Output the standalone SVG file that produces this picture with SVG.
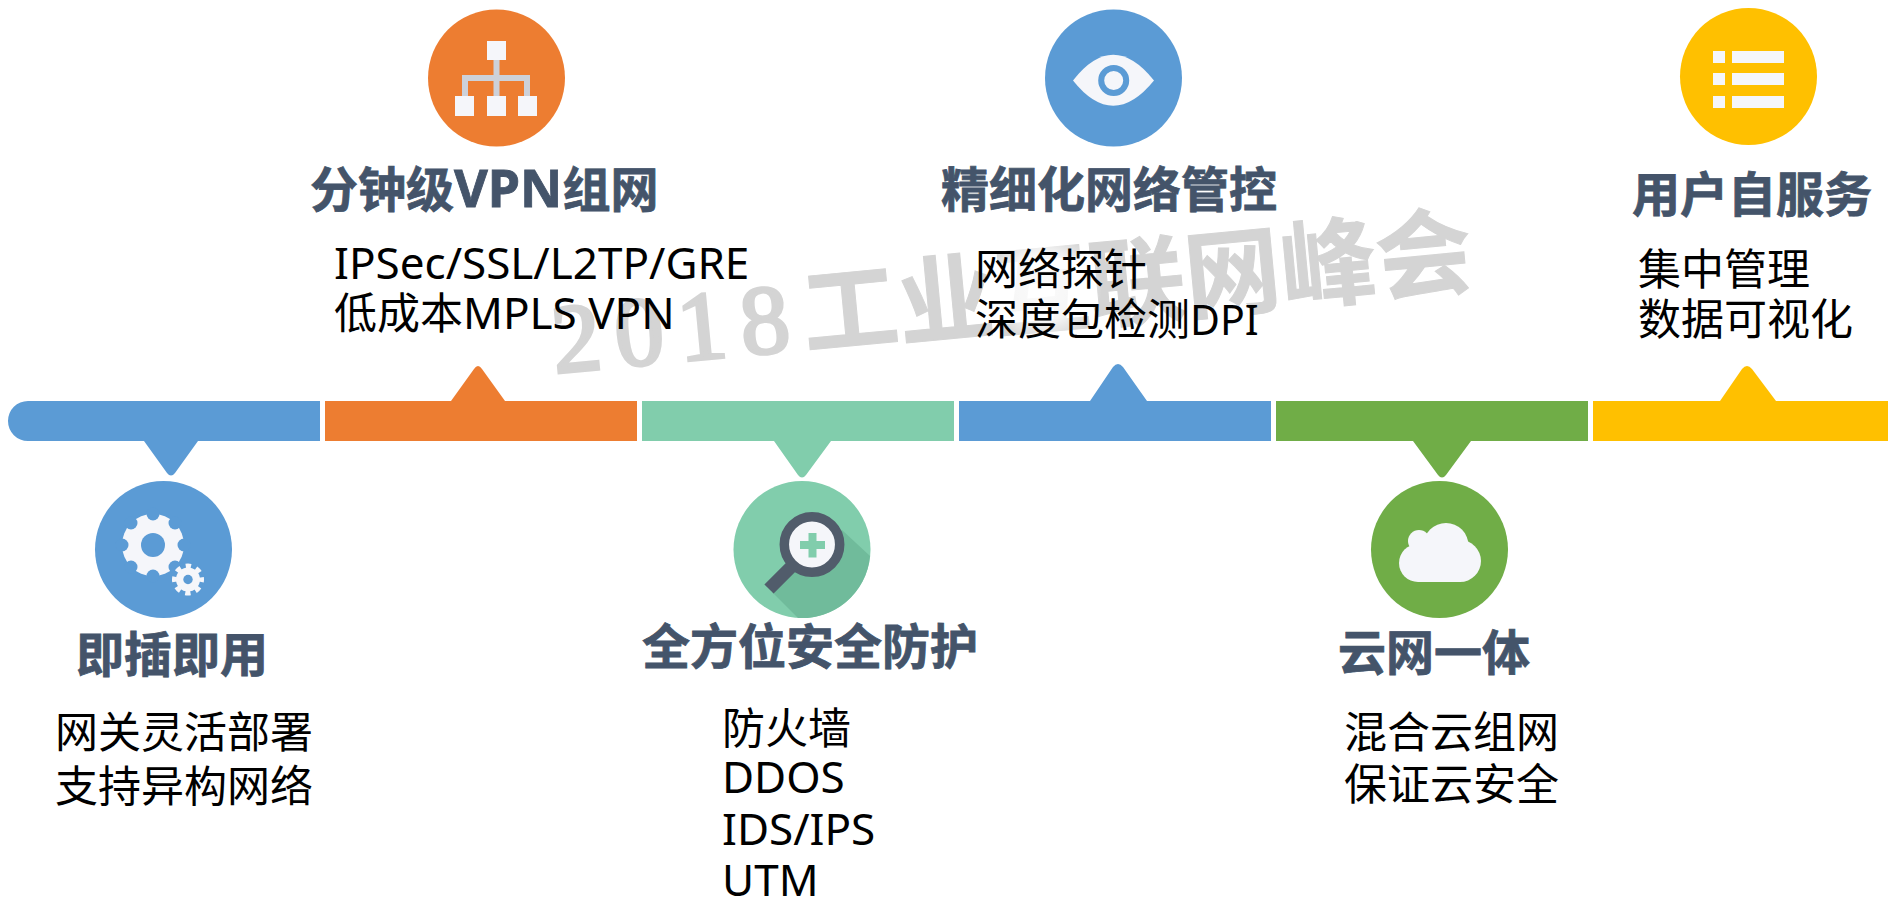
<svg xmlns="http://www.w3.org/2000/svg" width="1888" height="898" viewBox="0 0 1888 898">
<style>
text{font-family:"Noto Sans","Noto Sans CJK SC",sans-serif}
.h{font-weight:700;font-size:48px;fill:#44546a;stroke:#44546a;stroke-width:.8}
.b{font-size:43px;fill:#000}
.l{font-size:44px}
.w{fill:#f5f6fa}
.blue{fill:#5b9bd5}.orange{fill:#ed7d31}.mint{fill:#81cdac}.green{fill:#70ad47}.yellow{fill:#ffc000}
.wm{fill:#d4d4d4;stroke:#d4d4d4}
</style>
<defs>
<radialGradient id="fade"><stop offset="0" stop-color="#fff" stop-opacity=".9"/><stop offset=".6" stop-color="#fff" stop-opacity=".8"/><stop offset="1" stop-color="#fff" stop-opacity="0"/></radialGradient>
</defs>
<rect width="1888" height="898" fill="#fff"/>
<g id="watermark" transform="translate(555,373) rotate(-5.400)">
<text class="wm" x="0 63 126 189" y="0" font-size="98" stroke-width="3.500" style="font-family:'Liberation Serif',serif">2018</text>
<text class="wm" x="252 348 444 540 636 732 828" y="-1" font-size="96" font-weight="700" stroke-width="1" style="font-family:'Noto Sans CJK SC',sans-serif">工业互联网峰会</text>
</g>
<ellipse cx="1042" cy="287" rx="60" ry="56" fill="url(#fade)"/>
<g id="connectors">
<path class="blue" d="M28 401H320V441H198L175 473Q171 478 167 473L144 441H28A20 20 0 0 1 28 401Z"/>
<path class="orange" d="M325 401H451L474 369Q478 363 482 369L505 401H637V441H325Z"/>
<path class="mint" d="M642 401H954V441H831L806 475Q802 480 798 475L774 441H642Z"/>
<path class="blue" d="M959 401H1090L1113 367Q1118 361 1123 367L1147 401H1271V441H959Z"/>
<path class="green" d="M1276 401H1588V441H1471L1446 475Q1442 480 1438 475L1413 441H1276Z"/>
<path class="yellow" d="M1593 401H1720L1742 369Q1747 363 1752 369L1776 401H1888V441H1593Z"/>
</g>
<g id="node1">
<circle class="blue" cx="163.500" cy="549.500" r="68.500"/>
<circle class="w" cx="153" cy="545" r="31"/>
<g class="blue">
<circle cx="184" cy="545" r="6.500"/><circle cx="122" cy="545" r="6.500"/><circle cx="153" cy="514" r="6.500"/><circle cx="153" cy="576" r="6.500"/>
<circle cx="175" cy="523" r="6.500"/><circle cx="131" cy="523" r="6.500"/><circle cx="131" cy="567" r="6.500"/><circle cx="175" cy="567" r="6.500"/>
<circle cx="153" cy="545" r="12"/>
</g>
<circle class="blue" cx="188" cy="579.500" r="17.500"/>
<circle class="w" cx="188" cy="579.500" r="12"/>
<circle cx="188" cy="579.500" r="13.500" fill="none" stroke="#f5f6fa" stroke-width="5" stroke-dasharray="5.300 5.300" stroke-dashoffset="2.650"/>
<circle class="blue" cx="188" cy="579.500" r="4.700"/>
<text class="h" x="76" y="672">即插即用</text>
<text class="b" x="55" y="748">网关灵活部署</text>
<text class="b" x="55" y="802">支持异构网络</text>
</g>
<g id="node2">
<circle class="orange" cx="496.500" cy="78" r="68.500"/>
<path d="M496.500 55V100M465 100V78H527V100" fill="none" stroke="#cdd1d9" stroke-width="6"/>
<rect class="w" x="487" y="41" width="19" height="19"/>
<rect class="w" x="455" y="96" width="19" height="20"/>
<rect class="w" x="487" y="96" width="19" height="20"/>
<rect class="w" x="518" y="96" width="19" height="20"/>
<text class="h" x="310" y="207">分钟级<tspan font-size="52">VPN</tspan>组网</text>
<text class="b" x="334" y="279"><tspan class="l">IPSec/SSL/L2TP/GRE</tspan></text>
<text class="b" x="334" y="329">低成本<tspan class="l">MPLS VPN</tspan></text>
</g>
<g id="node3">
<circle class="mint" cx="802" cy="549.500" r="68.500"/>
<path d="M842 530L870 556A68.500 68.500 0 0 1 798 618L772 592L790 565Z" fill="#70bb9b"/>
<circle cx="812" cy="544.500" r="27.700" fill="#f5f6fa" stroke="#515c6b" stroke-width="9.500"/>
<path d="M793 565L769 589" stroke="#515c6b" stroke-width="13" fill="none"/>
<path d="M800 545H825M812.500 533V557.500" stroke="#81cdac" stroke-width="8" fill="none"/>
<text class="h" x="642" y="664">全方位安全防护</text>
<text class="b" x="722" y="744">防火墙</text>
<text class="b" x="722" y="793"><tspan class="l">DDOS</tspan></text>
<text class="b" x="722" y="845"><tspan class="l">IDS/IPS</tspan></text>
<text class="b" x="722" y="896"><tspan class="l">UTM</tspan></text>
</g>
<g id="node4">
<circle class="blue" cx="1113.500" cy="78" r="68.500"/>
<path class="w" d="M1073 80.500Q1113 29 1154 80.500Q1113 131 1073 80.500Z"/>
<circle cx="1113.700" cy="80.500" r="12.500" fill="#f5f6fa" stroke="#5b9bd5" stroke-width="6"/>
<text class="h" x="941" y="207">精细化网络管控</text>
<text class="b" x="975" y="285">网络探针</text>
<text class="b" x="975" y="335">深度包检测<tspan font-size="41">DPI</tspan></text>
</g>
<g id="node5">
<circle class="green" cx="1439.500" cy="549.500" r="68.500"/>
<g class="w">
<circle cx="1418" cy="563" r="19"/><circle cx="1460" cy="561" r="21"/><circle cx="1419" cy="541" r="11"/><circle cx="1446" cy="545.500" r="22.500"/>
<rect x="1418" y="545" width="42" height="37"/>
</g>
<text class="h" x="1338" y="670">云网一体</text>
<text class="b" x="1344" y="748">混合云组网</text>
<text class="b" x="1344" y="800">保证云安全</text>
</g>
<g id="node6">
<circle class="yellow" cx="1748.500" cy="76.500" r="68.500"/>
<rect class="w" x="1713" y="51" width="12" height="12"/>
<rect class="w" x="1732" y="51" width="52" height="12"/>
<rect class="w" x="1713" y="73" width="12" height="12"/>
<rect class="w" x="1732" y="73" width="52" height="12"/>
<rect class="w" x="1713" y="96" width="12" height="12"/>
<rect class="w" x="1732" y="96" width="52" height="12"/>
<text class="h" x="1632" y="212">用户自服务</text>
<text class="b" x="1638" y="285">集中管理</text>
<text class="b" x="1638" y="335">数据可视化</text>
</g>
</svg>
